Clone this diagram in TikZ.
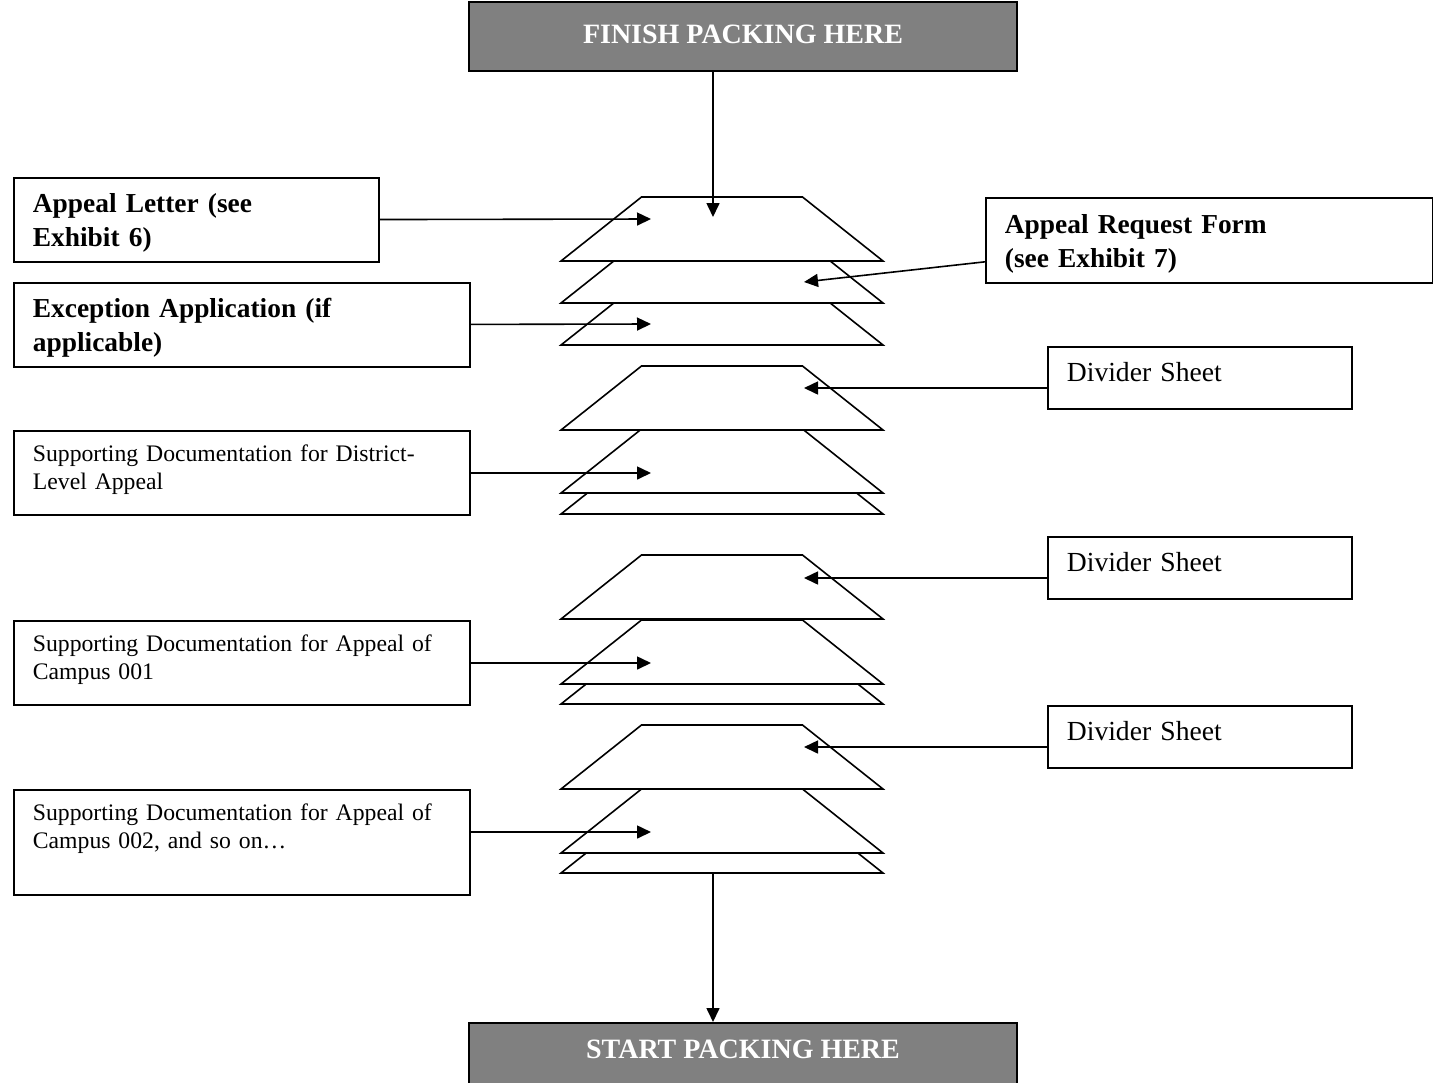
\documentclass[tikz,border=0pt]{standalone}
\usepackage{fontspec}
\setmainfont{Liberation Serif}
\usetikzlibrary{arrows.meta}

\tikzset{
  docbox/.style={draw, line width=0.9pt, anchor=north west, inner xsep=9.5pt, inner ysep=0pt, align=left},
  boldtxt/.style={font=\bfseries\fontsize{13.7}{17}\selectfont},
  smalltxt/.style={font=\fontsize{11.85}{14}\selectfont},
  dividertxt/.style={font=\fontsize{13.8}{17}\selectfont},
  packbox/.style={draw, line width=1pt, fill=gray, text=white, font=\bfseries\fontsize{14}{17}\selectfont, inner sep=0pt, minimum width=274pt, anchor=north},
  conn/.style={line width=0.8pt, -{Triangle[length=7pt,width=6.5pt]}},
  sheet/.pic={\draw[line width=0.8pt, fill=white] (-161,0) -- (161,0) -- (80.5,-64) -- (-80.5,-64) -- cycle;}
}

\begin{document}
\begin{tikzpicture}[x=0.5pt, y=-0.5pt]
\useasboundingbox (0,0) rectangle (1433,1082);

% start / finish
\node[packbox, text height=20.5pt, text depth=14pt] (finish) at (743,1) {FINISH PACKING HERE};
\node[packbox, text height=17.5pt, text depth=20pt] (start) at (743,1022) {START PACKING HERE};

% the stacks of sheets, back to front
\foreach \yb in {345,303,261, 514,493,430, 704,684,619, 873,853,789}
  \pic at (722,\yb) {sheet};

% where the arrows land
\coordinate (t1top) at (713,217);
\coordinate (t1a) at (651,219);
\coordinate (t1b) at (804,282);
\coordinate (t1c) at (651,324);
\coordinate (t2a) at (804,388);
\coordinate (t2b) at (651,473);
\coordinate (t3a) at (804,578);
\coordinate (t3b) at (651,663);
\coordinate (t4a) at (804,747);
\coordinate (t4b) at (651,832);
\coordinate (t4bot) at (713,873);

% left column
\node[docbox, boldtxt, text width=163.5pt, text height=17.5pt, text depth=24.5pt] (letter) at (13,177) {Appeal Letter (see\\Exhibit 6)};
\node[docbox, boldtxt, text width=209pt, text height=17.5pt, text depth=24.5pt] (exception) at (13,282) {Exception Application (if\\applicable)};
\node[docbox, smalltxt, text width=209pt, text height=15.5pt, text depth=26.5pt] (district) at (13,430) {Supporting Documentation for District-\\Level Appeal};
\node[docbox, smalltxt, text width=209pt, text height=15.5pt, text depth=26.5pt] (camp1) at (13,620) {Supporting Documentation for Appeal of\\Campus 001};
\node[docbox, smalltxt, text width=209pt, text height=15.5pt, text depth=37pt] (camp2) at (13,789) {Supporting Documentation for Appeal of\\Campus 002, and so on\dots};

% right column
\node[docbox, boldtxt, text width=204.5pt, text height=18pt, text depth=24.5pt] (request) at (985,197) {Appeal Request Form\\(see Exhibit 7)};
\node[docbox, dividertxt, text width=133pt, text height=17.5pt, text depth=13.5pt] (div1) at (1047,346) {Divider Sheet};
\node[docbox, dividertxt, text width=133pt, text height=17.5pt, text depth=13.5pt] (div2) at (1047,536) {Divider Sheet};
\node[docbox, dividertxt, text width=133pt, text height=17.5pt, text depth=13.5pt] (div3) at (1047,705) {Divider Sheet};

% arrows
\draw[conn] (finish.south -| t1top) -- (t1top);
\draw[conn] (letter) -- (t1a);
\draw[conn] ([yshift=11pt]request.south west) -- (t1b);
\draw[conn] (exception) -- (t1c);
\draw[conn] (div1.west |- t2a) -- (t2a);
\draw[conn] (district.east |- t2b) -- (t2b);
\draw[conn] (div2.west |- t3a) -- (t3a);
\draw[conn] (camp1.east |- t3b) -- (t3b);
\draw[conn] (div3.west |- t4a) -- (t4a);
\draw[conn] (camp2.east |- t4b) -- (t4b);
\draw[conn] (t4bot) -- (start.north -| t4bot);
\end{tikzpicture}
\end{document}
